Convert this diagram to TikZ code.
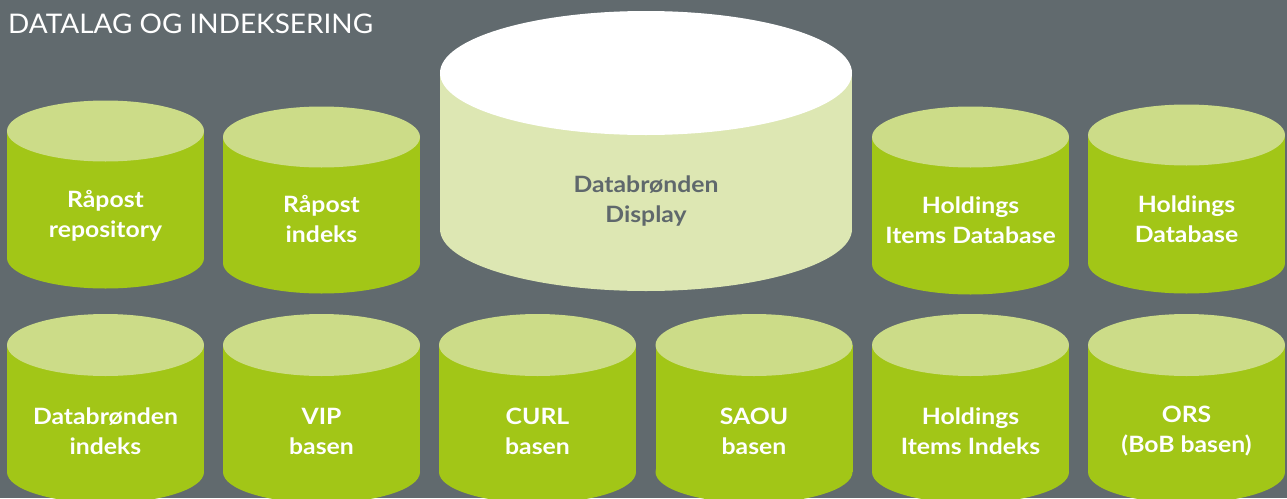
\documentclass[tikz,border=0pt]{standalone}
\usepackage{fontspec}
\setmainfont{Lato}
\newfontfamily\labelfont{Lato}[FakeStretch=1.1]
\newfontfamily\headfont{Lato}[FakeStretch=1.035]
\definecolor{bggray}{RGB}{97,106,110}
\definecolor{sidegreen}{RGB}{162,198,23}
\definecolor{topgreen}{RGB}{204,220,136}
\definecolor{paleside}{RGB}{221,231,179}
\definecolor{darktext}{RGB}{95,104,108}
\newcommand{\drawcyl}[7]{%
  % #1 cx, #2 ytop, #3 ybot, #4 rx, #5 ry, #6 side colour, #7 top colour
  \fill[#6] ({#1-#4},#2) rectangle ({#1+#4},#3);
  \fill[#6] (#1,#3) ellipse [x radius=#4, y radius=#5];
  \fill[#7] (#1,#2) ellipse [x radius=#4, y radius=#5];
}
\tikzset{
  lbl/.style={text=white, font=\labelfont\bfseries\fontsize{22.5}{30}\selectfont, align=center, inner sep=0pt},
  biglbl/.style={text=darktext, font=\labelfont\bfseries\fontsize{22.5}{30}\selectfont, align=center, inner sep=0pt},
  titletext/.style={text=white, font=\headfont\fontsize{27}{30}\selectfont, inner sep=0pt, anchor=base west}
}
\begin{document}
\begin{tikzpicture}[x=1pt,y=-1pt]
\useasboundingbox (0,0) rectangle (1287,498);
\fill[bggray] (0,0) rectangle (1287,498);
\begin{scope}
\clip (0,0) rectangle (1287,498);
% row 1
\drawcyl{105.5}{131}{258}{98.5}{30.5}{sidegreen}{topgreen}
\drawcyl{321.5}{137}{263}{98.5}{30.5}{sidegreen}{topgreen}
\drawcyl{646}{73}{229}{206}{62}{paleside}{white}
\drawcyl{970.5}{137}{264}{98.5}{30.5}{sidegreen}{topgreen}
\drawcyl{1186.5}{135}{263}{98.5}{30.5}{sidegreen}{topgreen}
% row 2
\drawcyl{105.5}{345}{472}{98.5}{31}{sidegreen}{topgreen}
\drawcyl{321.5}{345}{472}{98.5}{31}{sidegreen}{topgreen}
\drawcyl{537.5}{345}{472}{98.5}{31}{sidegreen}{topgreen}
\drawcyl{754}{345}{472}{98.5}{31}{sidegreen}{topgreen}
\drawcyl{970.5}{345}{472}{98.5}{31}{sidegreen}{topgreen}
\drawcyl{1186.5}{345}{472}{98.5}{31}{sidegreen}{topgreen}
\end{scope}
\node[titletext] (title) at (8,33) {DATALAG OG INDEKSERING};
\node[lbl] (rr) at (105.5,216) {Råpost\\repository};
\node[lbl] (ri) at (321.5,219) {Råpost\\indeks};
\node[biglbl] (dd) at (646,201) {Databrønden\\Display};
\node[lbl] (hid) at (970.5,220) {Holdings\\Items Database};
\node[lbl] (hd) at (1186.5,219) {Holdings\\Database};
\node[lbl] (di) at (105.5,431) {Databrønden\\indeks};
\node[lbl] (vip) at (321.5,431) {VIP\\basen};
\node[lbl] (curl) at (537.5,431) {CURL\\basen};
\node[lbl] (saou) at (754,431) {SAOU\\basen};
\node[lbl] (hii) at (970.5,431) {Holdings\\Items Indeks};
\node[lbl] (ors) at (1186.5,431) {ORS\\(BoB basen)};
\end{tikzpicture}
\end{document}
